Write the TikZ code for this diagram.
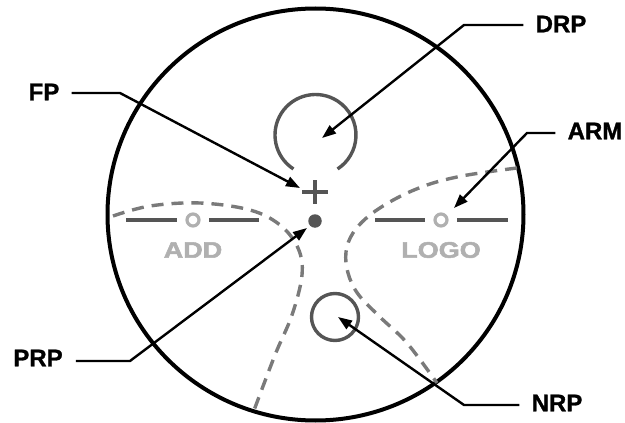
\documentclass[tikz,border=0pt]{standalone}
\usepackage{fontspec}
\setmainfont{Liberation Sans}
\newfontfamily\heavyfont{Liberation Sans Bold}[FakeBold=1.2]
\newfontfamily\heavierfont{Liberation Sans Bold}[FakeBold=2.2]
\usetikzlibrary{arrows.meta}
\definecolor{darkg}{HTML}{555555}
\definecolor{dashg}{HTML}{7A7A7A}
\definecolor{lightg}{HTML}{B0B0B0}
\begin{document}
\begin{tikzpicture}[x=1pt,y=-1pt,
  lbl/.style={font=\heavyfont\fontsize{24}{24}\selectfont, inner sep=0pt},
  leader/.style={line width=2.4pt, -{Triangle[length=14pt,width=10pt]}},
  darkline/.style={draw=darkg, line width=3.4pt},
  bar/.style={draw=darkg, line width=4pt},
  ring/.style={circle, draw=lightg, line width=3.2pt, minimum size=12pt, inner sep=0pt},
  dashcurve/.style={draw=dashg, line width=3.4pt, dash pattern=on 12pt off 8pt},
  logo/.style={text=lightg, font=\heavierfont\fontsize{22.5}{22.5}\selectfont, inner sep=0pt}]
\useasboundingbox (0,0) rectangle (625,423);
% outer ellipse
\draw[line width=4pt] (315.5,214.5) ellipse [x radius=208, y radius=206];
% dashed curves
\draw[dashcurve] plot[smooth, tension=0.6] coordinates {(113,216) (150,206) (200,203) (250,210) (280,225) (298,248) (302,275) (292,315) (275,355) (253,413)};
\draw[dashcurve] plot[smooth, tension=0.6] coordinates {(517,168) (487,172) (457,177) (427,185) (397,198) (370,215) (353,233) (346,252) (348,273) (358,294) (380,317) (407,343) (437,383)};
% top arc (DRP)
\coordinate (drpc) at (315.5,135);
\draw[darkline] (drpc) ++(123:40.5) arc[start angle=123, end angle=417, radius=40.5];
% plus (FP)
\coordinate (fpc) at (315,192);
\draw[draw=darkg, line width=4.5pt] (302,192) -- (328,192) (315,180) -- (315,204);
% dot (PRP)
\node[circle, fill=darkg, minimum size=13.5pt, inner sep=0pt] (dot) at (315,221) {};
% bottom circle (NRP)
\node[circle, darkline, minimum size=47pt, inner sep=0pt] (nrpc) at (335,317) {};
% ADD bar
\node[ring] (addc) at (193,220) {};
\draw[bar] (126,220) -- (177,220) (209,220) -- (259,220);
\node[logo] (add) at (193,250) {\scalebox{1.2}[1]{ADD}};
% LOGO bar
\node[ring] (logoc) at (441,220) {};
\draw[bar] (375,220) -- (425,220) (457,220) -- (508,220);
\node[logo] (logo) at (441,250) {\scalebox{1.2}[1]{LOGO}};
% labels
\node[lbl] (drp) at (561,24) {DRP};
\node[lbl] (fp) at (44,92) {FP};
\node[lbl] (arm) at (595,131) {ARM};
\node[lbl] (prp) at (38,358) {PRP};
\node[lbl] (nrp) at (557,403) {NRP};
% knees and tips
\coordinate (drpk) at (464,25);  \coordinate (drpt) at (322,138);
\coordinate (fpk) at (120,93);   \coordinate (fpt) at (300,188);
\coordinate (armk) at (527,133); \coordinate (armt) at (454,208);
\coordinate (prpk) at (130,361); \coordinate (prpt) at (307,228);
\coordinate (nrpk) at (464,405); \coordinate (nrpt) at (338,317);
% leaders
\draw[leader] ([xshift=-12pt]drp.west |- drpk) -- (drpk) -- (drpt);
\draw[leader] ([xshift=12pt]fp.east |- fpk) -- (fpk) -- (fpt);
\draw[leader] ([xshift=-12pt]arm.west |- armk) -- (armk) -- (armt);
\draw[leader] ([xshift=13pt]prp.east |- prpk) -- (prpk) -- (prpt);
\draw[leader] ([xshift=-12pt]nrp.west |- nrpk) -- (nrpk) -- (nrpt);
\end{tikzpicture}
\end{document}
